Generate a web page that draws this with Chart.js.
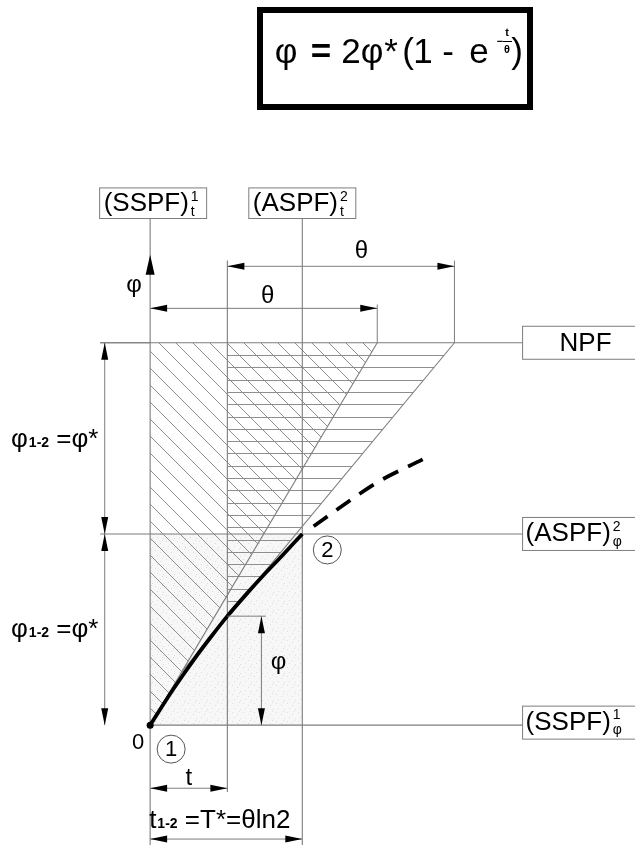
<!DOCTYPE html>
<html>
<head>
<meta charset="utf-8">
<script src="https://cdn.jsdelivr.net/npm/chart.js@4.4.1/dist/chart.umd.min.js"></script>
<style>
  html, body { margin: 0; padding: 0; background: #fff; }
  #wrap { width: 635px; height: 849px; }
</style>
</head>
<body>
<div id="wrap"><canvas id="diagram" width="635" height="849"></canvas></div>
<script>
// t in units of θ, φ in units of φ*
const thetaSpan = 1;
const stepT = [0, 0.34, 0.67];          // point 1, t, point 2 (T* = θ ln2)
const levelPhi = [0, 1, 2];             // SSPF, ASPF, NPF
const levelText = ['(SSPF)', '(ASPF)', 'NPF'];
const levelSup = ['1', '2', ''];
const levelSub = ['φ', 'φ', ''];
const topText = ['(SSPF)', '(ASPF)'];
const topSup = ['1', '2'];
const topSub = ['t', 't'];

const curveT   = [0, 0.1, 0.2, 0.27, 0.34, 0.42, 0.5, 0.58, 0.67];
const curvePhi = [0, 0.185, 0.355, 0.465, 0.57, 0.68, 0.785, 0.885, 1.0];
const dashT    = [0.72, 0.85, 1.0, 1.2];
const dashPhi  = [1.04, 1.15, 1.27, 1.39];
const phiAtT   = 0.57;                  // value of the curve at stepT[1]
const tangentStart = [0.14, 0.28];      // lower end of the tangent through that point

// visible window
const tMin = -0.6435, tMax = 2.1174, phiMin = -0.627, phiMax = 3.772;
const lineLeft = -0.22, lineRight = 1.64, vTop = 2.65, vTopT = 2.43, vBottomT = -0.35;

const FONT = '"Liberation Sans", Arial, sans-serif';
const GREY = '#7d7d7d';

const pts = (xs, ys) => xs.map((x, i) => ({ x, y: ys[i] }));
const thinLine = data => ({
    data, showLine: true, borderColor: GREY, borderWidth: 1.1, pointRadius: 0, tension: 0
});

function seg(ctx, x1, y1, x2, y2) {
    ctx.beginPath();
    ctx.moveTo(x1, y1);
    ctx.lineTo(x2, y2);
    ctx.stroke();
}

function arrow(ctx, tx, ty, dx, dy, len = 17, hw = 3.5) {
    const bx = tx - dx * len, by = ty - dy * len;
    ctx.beginPath();
    ctx.moveTo(tx, ty);
    ctx.lineTo(bx - dy * hw, by + dx * hw);
    ctx.lineTo(bx + dy * hw, by - dx * hw);
    ctx.closePath();
    ctx.fill();
}

function dimH(ctx, xa, xb, yy) {
    seg(ctx, xa, yy, xb, yy);
    arrow(ctx, xa, yy, -1, 0);
    arrow(ctx, xb, yy, 1, 0);
}

function dimV(ctx, xx, ya, yb) {
    seg(ctx, xx, ya, xx, yb);
    arrow(ctx, xx, ya, 0, -1);
    arrow(ctx, xx, yb, 0, 1);
}

// text with stacked superscript / subscript
function indexed(ctx, main, sup, sub, x, y, size) {
    ctx.textAlign = 'left';
    ctx.textBaseline = 'middle';
    ctx.font = `${size}px ${FONT}`;
    ctx.fillText(main, x, y);
    const w = ctx.measureText(main).width;
    ctx.font = `${Math.round(size * 0.52)}px ${FONT}`;
    if (sup) ctx.fillText(sup, x + w + 2, y - size * 0.27);
    if (sub) ctx.fillText(sub, x + w + 2, y + size * 0.3);
}

function measureIndexed(ctx, main, sup, sub, size) {
    ctx.font = `${size}px ${FONT}`;
    const w = ctx.measureText(main).width;
    ctx.font = `${Math.round(size * 0.52)}px ${FONT}`;
    const w2 = Math.max(sup ? ctx.measureText(sup).width : 0, sub ? ctx.measureText(sub).width : 0);
    return w + (w2 ? w2 + 2 : 0);
}

// label like φ₁₋₂ =φ*
function subLabel(ctx, head, sub, tail, x, y, size) {
    ctx.textAlign = 'left';
    ctx.textBaseline = 'alphabetic';
    ctx.font = `${size}px ${FONT}`;
    ctx.fillText(head, x, y);
    let cx = x + ctx.measureText(head).width + 1;
    ctx.font = `bold ${Math.round(size * 0.52)}px ${FONT}`;
    ctx.fillText(sub, cx, y);
    cx += ctx.measureText(sub).width;
    ctx.font = `${size}px ${FONT}`;
    ctx.fillText(tail, cx, y);
}

function hatch(ctx, poly, mode, gap) {
    ctx.save();
    ctx.beginPath();
    poly.forEach(([px, py], i) => i ? ctx.lineTo(px, py) : ctx.moveTo(px, py));
    ctx.closePath();
    ctx.clip();
    const xs = poly.map(p => p[0]), ys = poly.map(p => p[1]);
    const x0 = Math.min(...xs), x1 = Math.max(...xs);
    const y0 = Math.min(...ys), y1 = Math.max(...ys);
    ctx.strokeStyle = '#8e8e8e';
    ctx.lineWidth = 1;
    ctx.beginPath();
    if (mode === 'horiz') {
        for (let yy = y0 + gap; yy < y1; yy += gap) {
            ctx.moveTo(x0, Math.round(yy) + 0.5);
            ctx.lineTo(x1, Math.round(yy) + 0.5);
        }
    } else {
        const h = y1 - y0;
        for (let c = x0 - h; c < x1; c += gap) {
            ctx.moveTo(c, y0);
            ctx.lineTo(c + h, y1);
        }
    }
    ctx.stroke();
    ctx.restore();
}

function stipple(ctx) {
    const c = document.createElement('canvas');
    c.width = 11; c.height = 9;
    const g = c.getContext('2d');
    g.fillStyle = '#f7f7f7';
    g.fillRect(0, 0, 11, 9);
    g.fillStyle = '#dedede';
    [[1, 1], [6, 3], [3, 6], [9, 7], [8, 0]].forEach(([a, b]) => g.fillRect(a, b, 1, 1));
    return ctx.createPattern(c, 'repeat');
}

const drawing = {
    id: 'drawing',
    beforeDatasetsDraw(chart) {
        const { ctx, scales: { x, y } } = chart;
        const X = v => x.getPixelForValue(v), Y = v => y.getPixelForValue(v);
        ctx.save();
        ctx.fillStyle = stipple(ctx);
        ctx.fillRect(X(stepT[0]), Y(levelPhi[1]), X(stepT[2]) - X(stepT[0]), Y(levelPhi[0]) - Y(levelPhi[1]));
        ctx.restore();
        hatch(ctx, [[X(0), Y(0)], [X(0), Y(levelPhi[2])], [X(thetaSpan), Y(levelPhi[2])]], 'diag', 17);
        hatch(ctx, [[X(stepT[1]), Y(phiAtT)], [X(stepT[1]), Y(levelPhi[2])],
                    [X(stepT[1] + thetaSpan), Y(levelPhi[2])]], 'horiz', 12.3);
    },
    afterDatasetsDraw(chart) {
        const { ctx, scales: { x, y } } = chart;
        const X = v => x.getPixelForValue(v), Y = v => y.getPixelForValue(v);
        ctx.save();
        ctx.fillStyle = '#000';
        ctx.strokeStyle = GREY;
        ctx.lineWidth = 1;

        // formula
        ctx.save();
        ctx.strokeStyle = '#000';
        ctx.lineWidth = 6;
        ctx.strokeRect(260, 10, 270, 97);
        ctx.textAlign = 'center';
        ctx.textBaseline = 'alphabetic';
        const parts = [['φ', 286], ['=', 321, true], ['2', 351], ['φ', 372], ['*', 391], ['(', 408],
                       ['1', 423], ['-', 448], ['e', 479], [')', 517]];
        parts.forEach(([s, px, b]) => {
            ctx.font = `${b ? 'bold ' : ''}35px ${FONT}`;
            ctx.fillText(s, px, 63);
        });
        ctx.font = `bold 11px ${FONT}`;
        ctx.textBaseline = 'middle';
        ctx.fillText('−', 500, 42);
        ctx.fillText('t', 507, 33);
        ctx.fillText('θ', 507, 50);
        ctx.lineWidth = 1;
        seg(ctx, 503, 41.5, 512, 41.5);
        ctx.restore();

        // boxes on top of the two vertical lines
        [stepT[0], stepT[2]].forEach((t, i) => {
            const w = measureIndexed(ctx, topText[i], topSup[i], topSub[i], 26) + 12;
            const left = X(t) - w / 2 + (i === 0 ? 3 : 0);
            ctx.strokeRect(left, Y(2.81), w, Y(vTop) - Y(2.81));
            indexed(ctx, topText[i], topSup[i], topSub[i], left + 4, (Y(2.81) + Y(vTop)) / 2 + 1, 26);
        });

        // boxes at the right end of the level lines
        levelPhi.forEach((p, i) => {
            const cy = Y(p) - (i === 0 ? 2.5 : 0);
            const left = X(lineRight);
            ctx.strokeRect(left, cy - 16.5, 130, 33);
            if (levelSup[i]) {
                indexed(ctx, levelText[i], levelSup[i], levelSub[i], left + 3, cy, 26);
            } else {
                ctx.font = `26px ${FONT}`;
                ctx.textAlign = 'center';
                ctx.textBaseline = 'middle';
                ctx.fillText(levelText[i], left + 63, cy + 1);
            }
        });

        // φ axis arrow
        arrow(ctx, X(0), Y(2.46), 0, -1, 20, 4.5);
        ctx.font = `24px ${FONT}`;
        ctx.textAlign = 'center';
        ctx.textBaseline = 'middle';
        ctx.fillText('φ', X(0) - 16, Y(2.3));

        // θ dimensions
        ctx.strokeStyle = GREY;
        seg(ctx, X(thetaSpan), Y(levelPhi[2]), X(thetaSpan), Y(2.2));
        seg(ctx, X(stepT[1] + thetaSpan), Y(levelPhi[2]), X(stepT[1] + thetaSpan), Y(vTopT));
        dimH(ctx, X(0), X(thetaSpan), Y(2.18));
        dimH(ctx, X(stepT[1]), X(stepT[1] + thetaSpan), Y(2.40));
        ctx.font = `24px ${FONT}`;
        ctx.fillText('θ', X(thetaSpan / 2) + 4, Y(2.18) - 12);
        ctx.fillText('θ', X(stepT[1] + thetaSpan * 0.59), Y(2.40) - 15);

        // left dimensions φ1-2
        seg(ctx, X(lineLeft), Y(levelPhi[2]), X(0), Y(levelPhi[2]));
        dimV(ctx, X(-0.2), Y(levelPhi[2]), Y(levelPhi[1]));
        dimV(ctx, X(-0.2), Y(levelPhi[1]), Y(levelPhi[0]));
        subLabel(ctx, 'φ', '1-2', ' =φ*', 11, (Y(2) + Y(1)) / 2 + 9, 26);
        subLabel(ctx, 'φ', '1-2', ' =φ*', 11, (Y(1) + Y(0)) / 2 + 7, 26);

        // inner φ dimension
        seg(ctx, X(stepT[1]), Y(phiAtT), X(0.51), Y(phiAtT));
        dimV(ctx, X(0.49), Y(phiAtT), Y(0));
        ctx.font = `24px ${FONT}`;
        ctx.textAlign = 'center';
        ctx.fillText('φ', X(0.49) + 17, Y(phiAtT / 2) - 2);

        // bottom dimensions
        dimH(ctx, X(0), X(stepT[1]), Y(-0.33));
        dimH(ctx, X(0), X(stepT[2]), Y(-0.596));
        ctx.textBaseline = 'alphabetic';
        ctx.fillText('t', X(stepT[1] / 2), Y(-0.33) - 3);
        subLabel(ctx, 't', '1-2', ' =T*=θln2', X(0) - 1, Y(-0.596) - 11, 26);

        // origin and points 1, 2
        ctx.font = `22px ${FONT}`;
        ctx.textAlign = 'center';
        ctx.textBaseline = 'middle';
        ctx.fillText('0', X(0) - 12, Y(0) + 18);
        ctx.strokeStyle = '#555';
        [[X(0) + 21, Y(0) + 24, '1'], [X(stepT[2]) + 25, Y(levelPhi[1]) + 16, '2']].forEach(([cx, cy, s]) => {
            ctx.beginPath();
            ctx.arc(cx, cy, 14, 0, Math.PI * 2);
            ctx.stroke();
            ctx.fillText(s, cx, cy + 1);
        });
        ctx.restore();
    }
};

new Chart(document.getElementById('diagram'), {
    type: 'scatter',
    data: {
        datasets: [
            { data: pts(curveT, curvePhi), showLine: true, borderColor: '#000', borderWidth: 3.8,
              cubicInterpolationMode: 'monotone', pointRadius: 0 },
            { data: pts(dashT, dashPhi), showLine: true, borderColor: '#000', borderWidth: 3.8,
              borderDash: [17, 11], cubicInterpolationMode: 'monotone', pointRadius: 0 },
            { data: [{ x: stepT[0], y: levelPhi[0] }], pointRadius: 3.5,
              pointBackgroundColor: '#000', pointBorderWidth: 0 },
            thinLine([{ x: 0, y: 0 }, { x: thetaSpan, y: levelPhi[2] }]),
            thinLine([{ x: tangentStart[0], y: tangentStart[1] }, { x: stepT[1] + thetaSpan, y: levelPhi[2] }]),
            ...levelPhi.map(p => thinLine([{ x: p === 0 ? 0 : lineLeft, y: p }, { x: lineRight, y: p }])),
            thinLine([{ x: stepT[0], y: phiMin }, { x: stepT[0], y: vTop }]),
            thinLine([{ x: stepT[1], y: vBottomT }, { x: stepT[1], y: vTopT }]),
            thinLine([{ x: stepT[2], y: phiMin }, { x: stepT[2], y: vTop }])
        ]
    },
    options: {
        responsive: false,
        animation: false,
        layout: { padding: 0 },
        plugins: { legend: { display: false }, tooltip: { enabled: false } },
        scales: {
            x: { type: 'linear', display: false, min: tMin, max: tMax },
            y: { type: 'linear', display: false, min: phiMin, max: phiMax }
        }
    },
    plugins: [drawing]
});
</script>
</body>
</html>
